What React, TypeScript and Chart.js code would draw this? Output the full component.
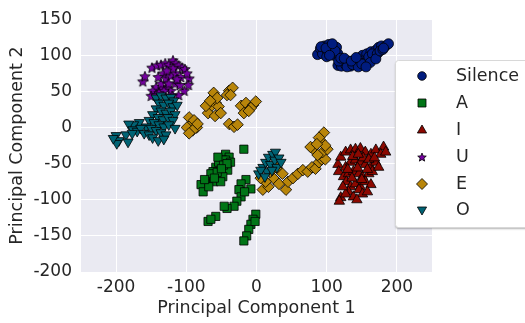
import React, { useEffect, useRef } from 'react';
import { Chart, registerables } from 'chart.js';

Chart.register(...registerables);

const classNames = ['Silence', 'A', 'I', 'U', 'E', 'O'];
const classColors = ['#001c7f', '#017517', '#8c0800', '#7600a1', '#b8850a', '#006374'];
const xTickValues = [-200, -100, 0, 100, 200];
const yTickValues = [-200, -150, -100, -50, 0, 50, 100, 150];

const silencePoints = [
  [87, 101], [91, 109], [97, 113], [103, 115], [110, 113], [114, 111], [94, 102], [101, 105], [107, 102], [100, 98],
  [110, 100], [116, 102], [116, 86], [121, 85], [127, 87], [134, 85], [131, 92], [124, 93], [140, 89], [117, 92],
  [146, 96], [151, 100], [157, 102], [163, 105], [170, 107], [174, 111], [178, 113], [184, 113], [188, 116], [151, 92],
  [158, 94], [164, 96], [155, 89], [148, 86], [168, 100], [160, 98], [143, 92], [165, 102], [172, 102], [92, 112],
  [105, 108], [112, 106], [120, 96], [129, 84], [137, 87], [145, 84], [150, 88], [162, 90], [170, 95], [176, 106],
  [180, 108], [99, 110], [104, 100], [125, 96], [135, 92], [156, 84], [142, 97], [108, 116], [181, 110],
];

const aPoints = [
  [-44, -37], [-39, -41], [-48, -45], [-52, -51], [-58, -55], [-62, -61], [-65, -72], [-71, -78], [-79, -79], [-76, -89],
  [-51, -61], [-44, -55], [-58, -68], [-65, -64], [-54, -48], [-44, -45], [-37, -48], [-41, -59], [-48, -68], [-61, -75],
  [-55, -41], [-68, -82], [-74, -72], [-51, -75], [-18, -30], [-15, -72], [-22, -78], [-25, -86], [-22, -96], [-28, -102],
  [-32, -109], [-42, -112], [-46, -109], [-58, -123], [-69, -130], [-65, -127], [-8, -85], [-17, -89], [-1, -120], [-5, -127],
  [-8, -134], [-11, -141], [-14, -150], [-18, -157], [-2, -130], [-47, -52], [-56, -62], [-60, -70], [-42, -50], [-50, -57],
];

const iPoints = [
  [116, -51], [120, -41], [127, -34], [134, -31], [141, -30], [148, -29], [155, -34], [163, -37], [170, -31], [181, -27],
  [177, -37], [184, -34], [117, -61], [127, -55], [134, -48], [141, -45], [148, -48], [155, -51], [163, -55], [170, -48],
  [124, -68], [131, -64], [138, -61], [146, -64], [151, -68], [160, -64], [165, -61], [128, -75], [134, -82], [141, -78],
  [148, -82], [155, -75], [163, -79], [131, -89], [138, -96], [146, -86], [151, -92], [120, -97], [127, -92], [118, -102],
  [143, -100], [158, -89], [174, -55], [123, -82], [137, -40], [152, -42], [160, -44], [130, -58], [144, -56], [158, -58],
  [136, -70], [150, -72], [145, -37], [168, -42],
];

const uPoints = [
  [-162, 64], [-159, 71], [-149, 83], [-142, 86], [-136, 87], [-130, 89], [-125, 87], [-119, 93], [-115, 89], [-111, 86],
  [-106, 83], [-102, 81], [-96, 68], [-97, 59], [-103, 51], [-111, 45], [-122, 51], [-129, 55], [-136, 56], [-143, 56],
  [-148, 51], [-150, 44], [-143, 45], [-136, 61], [-129, 68], [-122, 72], [-115, 75], [-108, 70], [-116, 61], [-125, 61],
  [-133, 75], [-140, 70], [-109, 59], [-119, 82], [-128, 79], [-113, 67], [-132, 51], [-139, 48], [-99, 75], [-120, 44],
];

const ePoints = [
  [-96, 14], [-93, 4], [-89, 10], [-85, 0], [-99, 0], [-91, -4], [-96, -8], [-84, 5], [-62, 41], [-58, 34],
  [-65, 29], [-54, 29], [-69, 20], [-59, 16], [-51, 20], [-72, 30], [-61, 48], [-56, 41], [-66, 37], [-39, 51],
  [-34, 55], [-42, 45], [-37, 45], [-22, 30], [-15, 34], [-5, 31], [-1, 36], [-8, 27], [-18, 20], [-11, 23],
  [-39, 5], [-32, 1], [-27, 4], [9, -86], [17, -82], [25, -71], [13, -75], [32, -78], [42, -86], [45, -75],
  [52, -70], [59, -64], [66, -59], [73, -61], [79, -55], [84, -57], [89, -48], [93, -44], [98, -44], [94, -34],
  [101, -30], [87, -38], [80, -29], [77, -27], [91, -18], [96, -7], [89, -14], [98, -25], [86, -23], [20, -61],
  [29, -56], [6, -70], [37, -64],
];

const oPoints = [
  [-143, 41], [-136, 44], [-129, 41], [-122, 42], [-118, 37], [-139, 34], [-132, 31], [-125, 34], [-119, 29], [-113, 31],
  [-143, 26], [-136, 23], [-129, 20], [-122, 23], [-116, 18], [-148, 18], [-140, 14], [-133, 11], [-126, 14], [-119, 10],
  [-153, 10], [-146, 7], [-139, 4], [-132, 1], [-125, 4], [-116, -1], [-157, 1], [-150, -1], [-143, -4], [-136, -7],
  [-129, -10], [-167, 7], [-175, 4], [-182, 5], [-176, -3], [-170, -5], [-165, -1], [-160, -8], [-153, -10], [-148, -14],
  [-140, -18], [-132, -16], [-200, -11], [-196, -18], [-199, -22], [-186, -10], [-177, -8], [-183, -20], [-204, -15],
  [3, -64], [9, -55], [13, -48], [17, -41], [23, -37], [27, -34], [20, -51], [26, -45], [32, -42], [29, -55],
  [15, -61], [6, -59], [35, -48], [22, -59], [12, -68],
];

const classPoints = [silencePoints, aPoints, iPoints, uPoints, ePoints, oPoints];

function makeStarCanvas(color: string, outer: number, inner: number) {
  const size = Math.ceil(outer * 2 + 3);
  const c = document.createElement('canvas');
  c.width = size;
  c.height = size;
  const ctx = c.getContext('2d')!;
  const cx = size / 2;
  const cy = size / 2 + 0.5;
  ctx.beginPath();
  for (let i = 0; i < 10; i++) {
    const r = i % 2 === 0 ? outer : inner;
    const a = -Math.PI / 2 + (i * Math.PI) / 5;
    const px = cx + r * Math.cos(a);
    const py = cy + r * Math.sin(a);
    if (i === 0) ctx.moveTo(px, py);
    else ctx.lineTo(px, py);
  }
  ctx.closePath();
  ctx.fillStyle = color;
  ctx.fill();
  ctx.lineWidth = 0.8;
  ctx.strokeStyle = '#000';
  ctx.stroke();
  return c;
}

const FONT = "'DejaVu Sans', sans-serif";
const TEXT_COLOR = '#262626';

export default function App() {
  const ref = useRef<HTMLCanvasElement>(null);

  useEffect(() => {
    const star = makeStarCanvas(classColors[3], 5.5, 2.4);
    const legendStar = makeStarCanvas(classColors[3], 4.5, 2.0);
    const styles: any[] = ['circle', 'rect', 'triangle', star, 'rectRot', 'triangle'];
    const radii = [5, 5.8, 6, 5, 5.8, 5.8];
    const rotations = [0, 0, 0, 0, 0, 180];

    const bgPlugin = {
      id: 'bg',
      beforeDraw(chart: any) {
        const { ctx, chartArea } = chart;
        ctx.save();
        ctx.fillStyle = '#ffffff';
        ctx.fillRect(0, 0, chart.width, chart.height);
        ctx.fillStyle = '#eaeaf2';
        ctx.fillRect(chartArea.left, chartArea.top, chartArea.right - chartArea.left, chartArea.bottom - chartArea.top);
        ctx.restore();
      },
    };

    const legendPlugin = {
      id: 'customLegend',
      afterDraw(chart: any) {
        const { ctx } = chart;
        ctx.save();
        const bx = 395.5, by = 60.5, bw = 140, bh = 167;
        ctx.shadowColor = 'rgba(0,0,0,0.3)';
        ctx.shadowBlur = 2;
        ctx.shadowOffsetY = 1.5;
        ctx.beginPath();
        const r = 3;
        ctx.moveTo(bx + r, by);
        ctx.lineTo(bx + bw, by);
        ctx.lineTo(bx + bw, by + bh);
        ctx.lineTo(bx + r, by + bh);
        ctx.arcTo(bx, by + bh, bx, by + bh - r, r);
        ctx.lineTo(bx, by + r);
        ctx.arcTo(bx, by, bx + r, by, r);
        ctx.closePath();
        ctx.fillStyle = '#ffffff';
        ctx.fill();
        ctx.shadowColor = 'transparent';
        ctx.strokeStyle = '#d8d8d8';
        ctx.lineWidth = 1;
        ctx.stroke();

        const ys = [76, 103, 130, 157, 184, 210];
        const mx = 422;
        for (let i = 0; i < classNames.length; i++) {
          const y = ys[i];
          ctx.fillStyle = classColors[i];
          ctx.strokeStyle = '#000';
          ctx.lineWidth = 0.8;
          ctx.beginPath();
          if (i === 0) {
            ctx.arc(mx, y, 4.3, 0, Math.PI * 2);
          } else if (i === 1) {
            ctx.rect(mx - 4, y - 4, 8, 8);
          } else if (i === 2) {
            ctx.moveTo(mx, y - 5);
            ctx.lineTo(mx + 4.6, y + 3);
            ctx.lineTo(mx - 4.6, y + 3);
            ctx.closePath();
          } else if (i === 4) {
            ctx.moveTo(mx, y - 5.5);
            ctx.lineTo(mx + 5.5, y);
            ctx.lineTo(mx, y + 5.5);
            ctx.lineTo(mx - 5.5, y);
            ctx.closePath();
          } else if (i === 5) {
            ctx.moveTo(mx, y + 5);
            ctx.lineTo(mx + 4.6, y - 3);
            ctx.lineTo(mx - 4.6, y - 3);
            ctx.closePath();
          }
          if (i === 3) {
            ctx.drawImage(legendStar, mx - legendStar.width / 2, y - legendStar.height / 2);
          } else {
            ctx.fill();
            ctx.stroke();
          }
          ctx.fillStyle = TEXT_COLOR;
          ctx.font = `17.5px ${FONT}`;
          ctx.textBaseline = 'middle';
          ctx.textAlign = 'left';
          ctx.fillText(classNames[i], 456, y);
        }
        ctx.restore();
      },
    };

    const datasets = classNames.map((name, i) => ({
      label: name,
      data: classPoints[i].map(([x, y]) => ({ x, y })),
      pointStyle: styles[i],
      pointRadius: radii[i],
      pointRotation: rotations[i],
      backgroundColor: classColors[i],
      borderColor: '#000000',
      borderWidth: 0.8,
      order: classNames.length - i,
    }));

    const chart = new Chart(ref.current!, {
      type: 'scatter',
      data: { datasets },
      options: {
        animation: false,
        responsive: false,
        devicePixelRatio: 1,
        events: [],
        layout: { padding: { top: 15, right: 93, left: 0, bottom: 0 } },
        plugins: { legend: { display: false }, tooltip: { enabled: false } },
        scales: {
          x: {
            type: 'linear',
            min: -250,
            max: 250,
            afterBuildTicks: (s: any) => { s.ticks = xTickValues.map((v) => ({ value: v })); },
            afterFit: (s: any) => { s.height = 51; },
            grid: { color: '#ffffff', lineWidth: 1, drawTicks: false },
            border: { display: false },
            ticks: { color: TEXT_COLOR, font: { family: FONT, size: 17 }, padding: 5, maxRotation: 0 },
            title: { display: true, text: 'Principal Component 1', color: TEXT_COLOR, font: { family: FONT, size: 17.5 }, padding: { top: 0, bottom: 4 } },
          },
          y: {
            type: 'linear',
            min: -200,
            max: 150,
            afterBuildTicks: (s: any) => { s.ticks = yTickValues.map((v) => ({ value: v })); },
            afterFit: (s: any) => { s.width = 81; },
            grid: { color: '#ffffff', lineWidth: 1, drawTicks: false },
            border: { display: false },
            ticks: { color: TEXT_COLOR, font: { family: FONT, size: 17 }, padding: 9 },
            title: { display: true, text: 'Principal Component 2', color: TEXT_COLOR, font: { family: FONT, size: 17.5 }, padding: { top: 7, bottom: 0 } },
          },
        },
      },
      plugins: [bgPlugin, legendPlugin],
    });
    return () => chart.destroy();
  }, []);

  return (
    <div style={{ position: 'fixed', left: 0, top: 0, width: 525, height: 323 }}>
      <canvas ref={ref} width={525} height={323} style={{ display: 'block', width: 525, height: 323 }} />
    </div>
  );
}
